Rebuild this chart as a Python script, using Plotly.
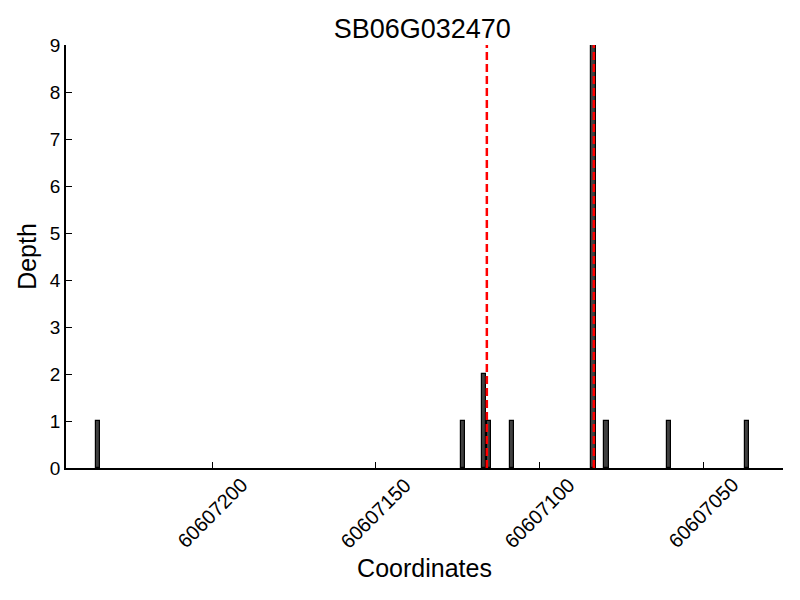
import plotly.graph_objects as go

title = "SB06G032470"
coords = [60607235, 60607123.5, 60607117, 60607115.5, 60607108.5,
          60607083.5, 60607079.5, 60607060.5, 60607036.5]
depth = [1, 1, 2, 1, 1, 9, 1, 1, 1]
marker_lines = [60607116.1, 60607083.4]
x_ticks = [60607200, 60607150, 60607100, 60607050]
y_ticks = list(range(0, 10))

font = "Liberation Sans, Arial, sans-serif"

fig = go.Figure()
fig.add_trace(go.Bar(
    x=coords, y=depth, width=1.3,
    marker=dict(color="#404040", line=dict(color="#000000", width=1.2)),
    showlegend=False,
))
for xv in marker_lines:
    fig.add_shape(type="line", x0=xv, x1=xv, xref="x", y0=0, y1=1, yref="paper",
                  line=dict(color="#ff0000", width=2.5, dash="8px,4px"))

# x tick labels centred on their ticks (rotated 45 degrees)
for tv in x_ticks:
    fig.add_annotation(x=tv, xref="x", y=0, yref="paper", text=str(tv),
                       textangle=-45, showarrow=False, xanchor="center",
                       yanchor="middle", yshift=-45, font=dict(size=20))

fig.update_layout(
    width=792, height=592,
    margin=dict(l=58, r=17, t=37, b=132, autoexpand=False),
    paper_bgcolor="white", plot_bgcolor="white",
    font=dict(family=font, color="black"),
    title=dict(text=title, x=0.523, xanchor="center", y=0.966, yanchor="middle",
               font=dict(size=27, family=font)),
    xaxis=dict(
        range=[60607244.7, 60607025.6],
        tickvals=x_ticks, showticklabels=False,
        ticks="inside", ticklen=6, tickcolor="black",
        showline=True, linecolor="black", linewidth=1.5,
        showgrid=False, zeroline=False, automargin=False,
        title=dict(text="Coordinates", font=dict(size=25), standoff=91),
    ),
    yaxis=dict(
        range=[0, 9],
        tickvals=y_ticks, tickfont=dict(size=19),
        ticks="inside", ticklen=6, tickcolor="black",
        showline=True, linecolor="black", linewidth=1.5,
        showgrid=False, zeroline=False, automargin=False,
        title=dict(text="Depth", font=dict(size=25), standoff=6),
    ),
    bargap=0,
)

fig.write_html("out.html")
